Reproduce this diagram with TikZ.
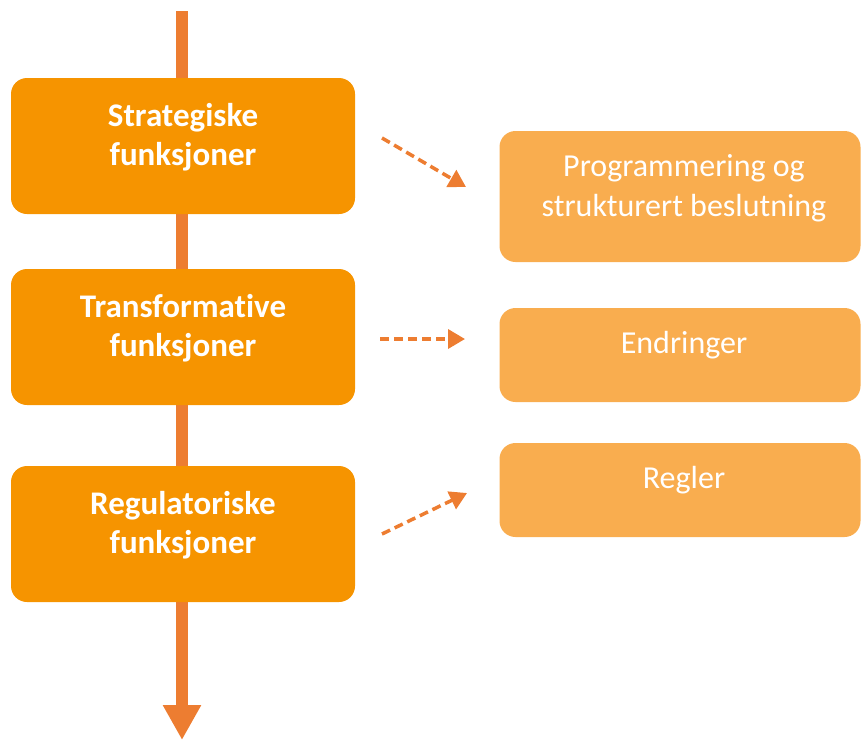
\documentclass[tikz,border=0pt]{standalone}
\usepackage{fontspec}
\setmainfont{Carlito}[Ligatures=NoCommon]
\usetikzlibrary{arrows.meta, positioning, calc}
\usepackage{xcolor}
\definecolor{strek}{RGB}{237,125,49}
\definecolor{boks}{RGB}{246,148,0}
\definecolor{lysboks}{RGB}{249,173,79}

\tikzset{
  venstre/.style={fill=boks, rounded corners=16pt, minimum width=344pt, minimum height=136pt, inner sep=0pt},
  hoyre/.style={fill=lysboks, rounded corners=16pt, minimum width=361pt, inner sep=0pt},
  vtekst/.style={text=white, align=center, font=\fontsize{33}{39}\selectfont\bfseries},
  htekst/.style={text=white, align=center, font=\fontsize{32}{40}\selectfont},
  pil/.style={strek, line width=3.5pt, dash pattern=on 9pt off 5pt, -{Triangle[width=19pt,length=17pt]}}
}

\begin{document}
\begin{tikzpicture}[x=1pt,y=-1pt]
  \useasboundingbox (0,0) rectangle (861,740);
  % hovedpil
  \coordinate (topp) at (182,11);
  \coordinate (bunn) at (182,740);
  \draw[strek, line width=12pt, -{Triangle[width=36pt,length=35pt]}] (topp) -- (bunn);

  % funksjoner
  \node[venstre] (strat) at (183,146) {};
  \node[venstre] (trans) at (183,337) {};
  \node[venstre] (regul) at (183,534) {};
  \node[vtekst] (strat-t) at ([yshift=9pt]strat.center) {Strategiske\\funksjoner};
  \node[vtekst] (trans-t) at ([yshift=9pt]trans.center) {Transformative\\funksjoner};
  \node[vtekst] (regul-t) at ([yshift=9pt]regul.center) {Regulatoriske\\funksjoner};

  % resultater
  \node[hoyre, minimum height=131pt] (prog) at (680,196.5) {};
  \node[hoyre, minimum height=94pt] (endr) at (680,355) {};
  \node[hoyre, minimum height=94pt] (regl) at (680,490) {};
  \node[htekst] (prog-t) at ([xshift=4pt,yshift=8pt]prog.center) {Programmering og\\strukturert beslutning};
  \node[htekst] (endr-t) at ([xshift=4pt,yshift=10pt]endr.center) {Endringer};
  \node[htekst] (regl-t) at ([xshift=4pt,yshift=10pt]regl.center) {Regler};

  % stiplede piler
  \coordinate (p1a) at (382,138);
  \coordinate (p1b) at (466,187);
  \coordinate (p2a) at (380,339);
  \coordinate (p2b) at (465,339);
  \coordinate (p3a) at (382,534);
  \coordinate (p3b) at (467,493);
  \draw[pil] (p1a) -- (p1b);
  \draw[pil] (p2a) -- (p2b);
  \draw[pil] (p3a) -- (p3b);
\end{tikzpicture}
\end{document}
